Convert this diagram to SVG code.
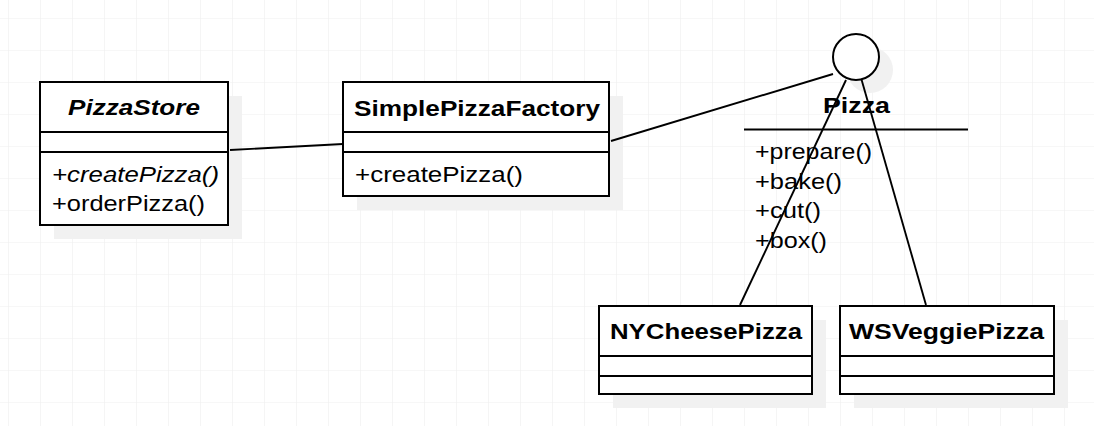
<svg xmlns="http://www.w3.org/2000/svg" width="1094" height="426" viewBox="0 0 1094 426">
<defs>
<pattern id="grid" x="8" y="18" width="32" height="32" patternUnits="userSpaceOnUse">
<path d="M0 0V32M0 0H32" fill="none" stroke="#efefef" stroke-width="1.2"/>
</pattern>
<style>
.box{fill:#fff;stroke:#000;stroke-width:2}
.sh{fill:#f1f1f1;stroke:none}
.ln{stroke:#000;stroke-width:2;fill:none}
.t{font-family:"Liberation Sans",Arial,sans-serif;font-size:22.5px;fill:#000}
.b{font-weight:bold}
.i{font-style:italic}
.con{stroke:#000;stroke-width:1.9;fill:none}
</style>
</defs>
<rect width="1094" height="426" fill="#fff"/>
<rect width="1094" height="426" fill="url(#grid)"/>

<g id="PizzaStore">
<rect class="sh" x="54" y="96" width="188" height="143"/>
<rect class="box" x="40" y="82" width="188" height="143"/>
<line class="ln" x1="40" y1="132" x2="228" y2="132"/>
<line class="ln" x1="40" y1="152" x2="228" y2="152"/>
<text class="t b i" x="68" y="115" textLength="132" lengthAdjust="spacingAndGlyphs">PizzaStore</text>
<text class="t i" x="52" y="181.5" textLength="167" lengthAdjust="spacingAndGlyphs">+createPizza()</text>
<text class="t" x="52" y="211" textLength="153" lengthAdjust="spacingAndGlyphs">+orderPizza()</text>
</g>

<g id="SimplePizzaFactory">
<rect class="sh" x="357" y="96" width="266" height="114"/>
<rect class="box" x="343" y="82" width="266" height="114"/>
<line class="ln" x1="343" y1="132" x2="609" y2="132"/>
<line class="ln" x1="343" y1="152" x2="609" y2="152"/>
<text class="t b" x="354" y="116" textLength="246" lengthAdjust="spacingAndGlyphs">SimplePizzaFactory</text>
<text class="t" x="355" y="181.5" textLength="168" lengthAdjust="spacingAndGlyphs">+createPizza()</text>
</g>

<g id="Pizza">
<circle class="sh" cx="870" cy="70" r="23"/>
<circle class="box" cx="856" cy="57" r="23"/>
<text class="t b" x="823" y="113" textLength="67" lengthAdjust="spacingAndGlyphs">Pizza</text>
<line class="ln" x1="744" y1="129.5" x2="968" y2="129.5"/>
<text class="t" x="755" y="158.5" textLength="117" lengthAdjust="spacingAndGlyphs">+prepare()</text>
<text class="t" x="755" y="188.5" textLength="87" lengthAdjust="spacingAndGlyphs">+bake()</text>
<text class="t" x="755" y="218" textLength="66" lengthAdjust="spacingAndGlyphs">+cut()</text>
<text class="t" x="755" y="248" textLength="72" lengthAdjust="spacingAndGlyphs">+box()</text>
</g>

<g id="NYCheesePizza">
<rect class="sh" x="613" y="320" width="213" height="88"/>
<rect class="box" x="599" y="306" width="213" height="88"/>
<line class="ln" x1="599" y1="356" x2="812" y2="356"/>
<line class="ln" x1="599" y1="376" x2="812" y2="376"/>
<text class="t b" x="610" y="338.5" textLength="192" lengthAdjust="spacingAndGlyphs">NYCheesePizza</text>
</g>

<g id="WSVeggiePizza">
<rect class="sh" x="854" y="320" width="214" height="88"/>
<rect class="box" x="840" y="306" width="214" height="88"/>
<line class="ln" x1="840" y1="356" x2="1054" y2="356"/>
<line class="ln" x1="840" y1="376" x2="1054" y2="376"/>
<text class="t b" x="849" y="338.5" textLength="195" lengthAdjust="spacingAndGlyphs">WSVeggiePizza</text>
</g>

<g id="connectors">
<line class="con" x1="230" y1="150" x2="343" y2="144"/>
<line class="con" x1="611" y1="141" x2="833" y2="74"/>
<line class="con" x1="846" y1="80" x2="740" y2="305"/>
<line class="con" x1="861.5" y1="79.5" x2="926" y2="305"/>
</g>
</svg>
